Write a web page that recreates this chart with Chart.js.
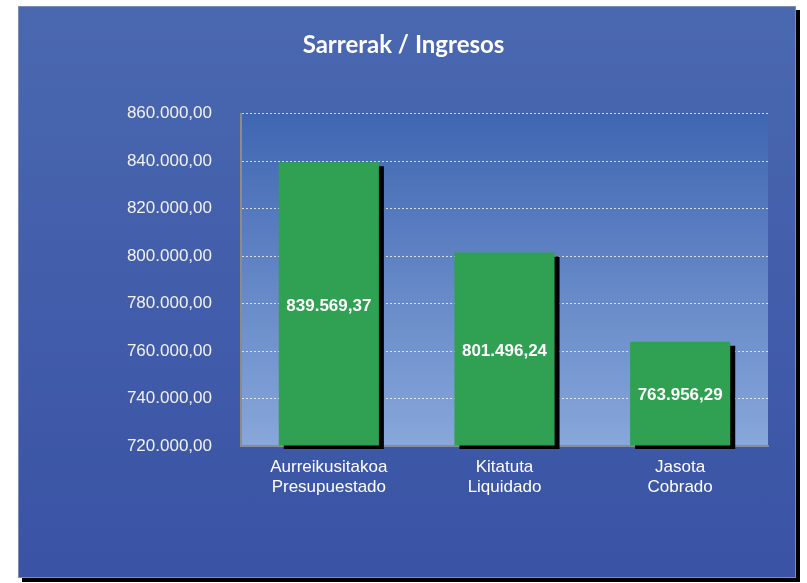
<!DOCTYPE html>
<html>
<head>
<meta charset="utf-8">
<script src="https://cdn.jsdelivr.net/npm/chart.js@4"></script>
<style>
  html, body { margin: 0; padding: 0; background: #ffffff; }
  #panel {
    position: absolute; left: 18px; top: 6px; width: 776px; height: 570px;
    background: linear-gradient(to bottom, #4a68b0 0%, #3a53a5 100%);
    border: 1px solid #7d8cb5;
    box-shadow: 4px 4px 0 #000;
  }
  #chart { position: absolute; left: 0; top: 0; }
</style>
</head>
<body>
<div id="panel"></div>
<canvas id="chart" width="807" height="583"></canvas>
<script>
// Chart data
const categories = [
  ["Aurreikusitakoa", "Presupuestado"],
  ["Kitatuta", "Liquidado"],
  ["Jasota", "Cobrado"],
];
const amounts = [839569.37, 801496.24, 763956.29];
const yMin = 720000;
const yMax = 860000;
const yStep = 20000;

// Format numbers like 860.000,00
function formatEuro(value) {
  const parts = Number(value).toFixed(2).split(".");
  const intPart = parts[0].replace(/\B(?=(\d{3})+(?!\d))/g, ".");
  return intPart + "," + parts[1];
}

// Gradient behind the plot area
const plotBackground = {
  id: "plotBackground",
  beforeDraw(chart) {
    const { ctx, chartArea } = chart;
    const g = ctx.createLinearGradient(0, chartArea.top, 0, chartArea.bottom);
    g.addColorStop(0, "#3f66b1");
    g.addColorStop(1, "#88a7da");
    ctx.save();
    ctx.fillStyle = g;
    ctx.fillRect(chartArea.left, chartArea.top, chartArea.right - chartArea.left, chartArea.bottom - chartArea.top);
    ctx.restore();
  },
};

// Hard black drop shadow under the bars
const barShadow = {
  id: "barShadow",
  beforeDatasetsDraw(chart) {
    const ctx = chart.ctx;
    ctx.save();
    ctx.shadowColor = "#000000";
    ctx.shadowOffsetX = 5;
    ctx.shadowOffsetY = 4;
    ctx.shadowBlur = 0;
  },
  afterDatasetsDraw(chart) {
    chart.ctx.restore();
  },
};

// Value labels in the middle of each bar
const barLabels = {
  id: "barLabels",
  afterDatasetsDraw(chart) {
    const ctx = chart.ctx;
    const meta = chart.getDatasetMeta(0);
    ctx.save();
    ctx.font = "bold 17px 'Liberation Sans', Arial, sans-serif";
    ctx.fillStyle = "#ffffff";
    ctx.textAlign = "center";
    ctx.textBaseline = "middle";
    meta.data.forEach(function (bar, i) {
      const mid = (bar.y + bar.base) / 2 + 2;
      ctx.fillText(formatEuro(amounts[i]), bar.x, mid);
    });
    ctx.restore();
  },
};

const ctx = document.getElementById("chart").getContext("2d");
new Chart(ctx, {
  type: "bar",
  data: {
    labels: categories,
    datasets: [
      {
        data: amounts,
        base: yMin,
        backgroundColor: "#30a052",
        borderWidth: 0,
        categoryPercentage: 1,
        barPercentage: 0.57,
        clip: { left: 8, right: 8, top: 8, bottom: 3 },
      },
    ],
  },
  options: {
    responsive: false,
    animation: false,
    devicePixelRatio: 1,
    layout: { padding: { left: 39, right: 39, top: 0, bottom: 0 } },
    plugins: {
      legend: { display: false },
      tooltip: { enabled: false },
      title: {
        display: true,
        text: "Sarrerak / Ingresos",
        color: "#ffffff",
        font: { family: "Lato, 'Open Sans', sans-serif", size: 24, weight: "bold", lineHeight: 1.2 },
        padding: { top: 31, bottom: 54 },
      },
    },
    scales: {
      x: {
        grid: { display: false, drawTicks: false },
        border: { display: true, color: "#8c8c8c", width: 2 },
        ticks: {
          color: "#ffffff",
          padding: 12,
          maxRotation: 0,
          font: { family: "'Liberation Sans', Arial, sans-serif", size: 17, lineHeight: 1.13 },
        },
        afterFit(scale) {
          scale.height = 137;
        },
      },
      y: {
        min: yMin,
        max: yMax,
        grid: {
          color: "rgba(255,255,255,0.75)",
          lineWidth: 1,
          drawTicks: false,
        },
        border: { display: true, color: "#8c8c8c", width: 2, dash: [2, 2] },
        ticks: {
          stepSize: yStep,
          color: "#f2f2f2",
          padding: 29,
          font: { family: "'Liberation Sans', Arial, sans-serif", size: 17 },
          callback: function (value) {
            return formatEuro(value);
          },
        },
        afterFit(scale) {
          scale.width = 202;
        },
      },
    },
  },
  plugins: [plotBackground, barShadow, barLabels],
});
</script>
</body>
</html>
